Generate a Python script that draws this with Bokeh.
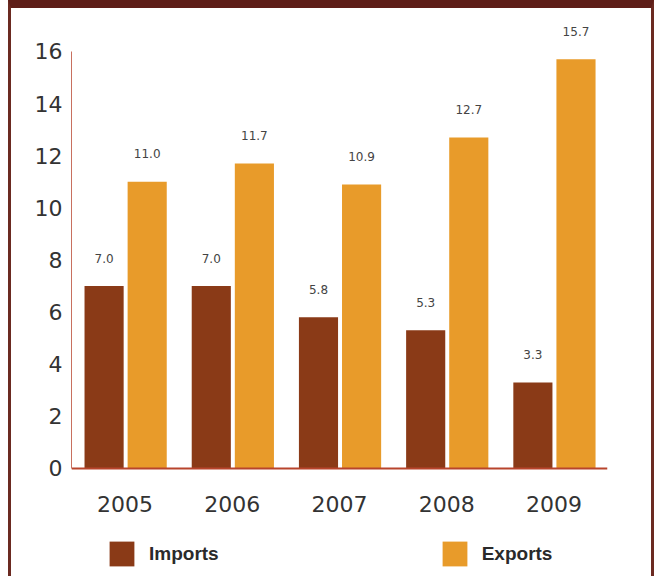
from bokeh.plotting import figure
from bokeh.models import ColumnDataSource, FactorRange, Range1d, LabelSet, Legend, LegendItem, FixedTicker
from bokeh.transform import dodge
from bokeh.embed import file_html
from bokeh.resources import INLINE
from bokeh.core.properties import value

years = ["2005", "2006", "2007", "2008", "2009"]
imports = [7.0, 7.0, 5.8, 5.3, 3.3]
exports = [11.0, 11.7, 10.9, 12.7, 15.7]
y_ticks = [0, 2, 4, 6, 8, 10, 12, 14, 16]
series_names = ["Imports", "Exports"]

IMP = "#8A3A17"
EXP = "#E89B2A"
FRAME = "#5E1E18"

src = ColumnDataSource(dict(
    year=years, imports=imports, exports=exports,
    imp_lbl=[f"{v:.1f}" for v in imports],
    exp_lbl=[f"{v:.1f}" for v in exports],
))

p = figure(
    x_range=FactorRange(factors=years, range_padding=0),
    y_range=Range1d(-4.144, 17.573),
    width=646, height=576,
    output_backend="svg", toolbar_location=None,
    min_border_left=60, min_border_right=50, min_border_top=2, min_border_bottom=8,
    outline_line_color=None,
    styles={"margin-left": "8px", "border-top": f"8px solid {FRAME}",
            "border-left": "3px solid #6B2A21", "border-right": "3px solid #6B2A21"},
)

r_imp = p.vbar(x=dodge("year", -0.196, range=p.x_range), top="imports", bottom=0, width=0.365,
               source=src, fill_color=IMP, line_color=None)
r_exp = p.vbar(x=dodge("year", 0.206, range=p.x_range), top="exports", bottom=0, width=0.365,
               source=src, fill_color=EXP, line_color=None)

for col, ycol, off in (("imp_lbl", "imports", -0.196), ("exp_lbl", "exports", 0.206)):
    p.add_layout(LabelSet(x=dodge("year", off, range=p.x_range), y=ycol, text=col, source=src,
                          y_offset=28, text_align="center", text_baseline="middle",
                          text_font_size="12px", text_color="#444444",
                          text_font=value("DejaVu Sans")))

p.xgrid.grid_line_color = None
p.ygrid.grid_line_color = None

ya = p.yaxis[0]
ya.ticker = FixedTicker(ticks=y_ticks)
ya.bounds = (0, 16)
ya.axis_line_color = "#C8705F"
ya.axis_line_width = 1
ya.major_tick_line_color = None
ya.minor_tick_line_color = None
ya.major_tick_out = 0
ya.major_label_standoff = 9
ya.major_label_text_font = "DejaVu Sans"
ya.major_label_text_font_size = "22px"
ya.major_label_text_color = "#333333"

xa = p.xaxis[0]
xa.fixed_location = 0
xa.axis_line_color = "#B8442C"
xa.axis_line_width = 2
xa.major_tick_line_color = None
xa.minor_tick_line_color = None
xa.major_tick_out = 0
xa.major_label_standoff = 28
xa.major_label_text_font = "DejaVu Sans"
xa.major_label_text_font_size = "22px"
xa.major_label_text_color = "#333333"

legend = Legend(
    items=[LegendItem(label=series_names[0], renderers=[r_imp]),
           LegendItem(label=series_names[1], renderers=[r_exp])],
    orientation="horizontal", location=(35, 7),
    glyph_width=31, glyph_height=31, label_height=31, label_standoff=12,
    spacing=220, padding=0, margin=0,
    border_line_color=None, background_fill_alpha=0,
    label_text_font="Liberation Sans", label_text_font_style="bold",
    label_text_font_size="19px", label_text_color="#2A2A2A",
)
p.add_layout(legend)

open("out.html", "w").write(file_html(p, INLINE))
